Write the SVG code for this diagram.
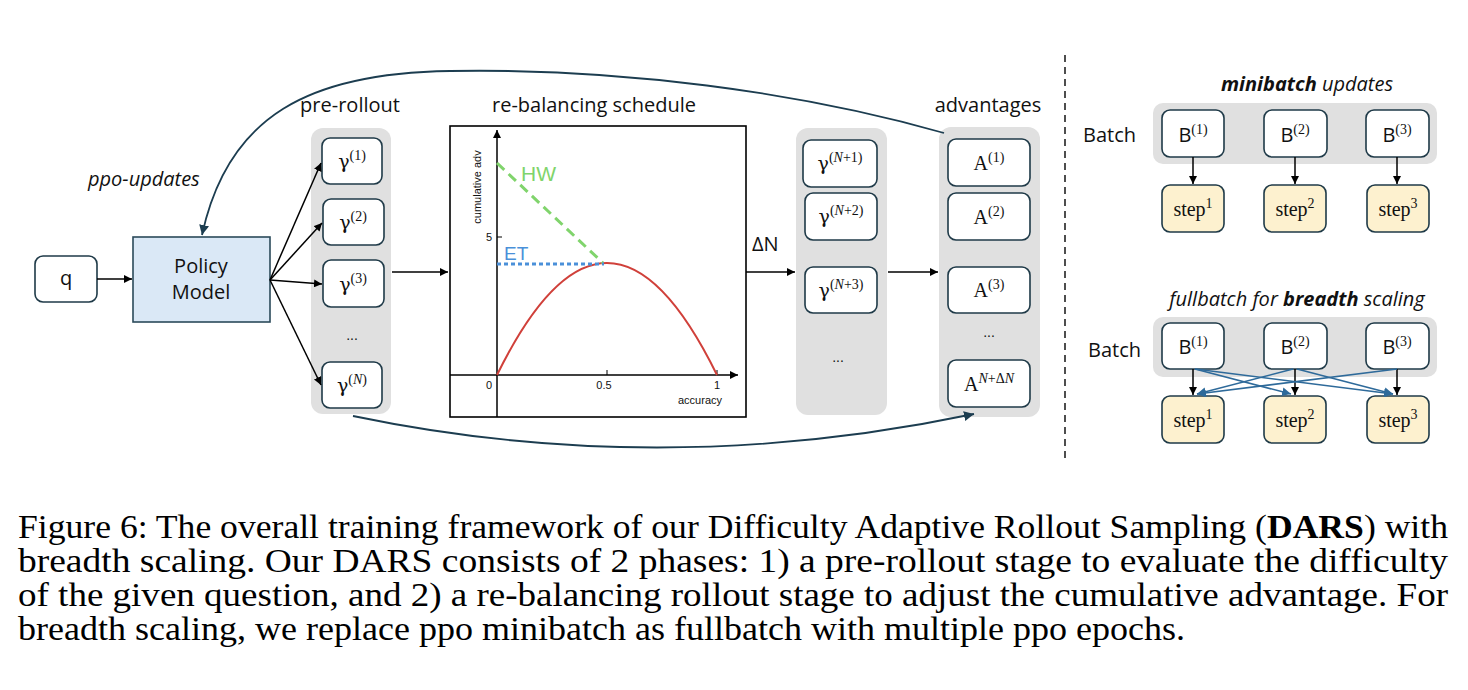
<svg xmlns="http://www.w3.org/2000/svg" width="1468" height="690" viewBox="0 0 1468 690">
<style>
.box{fill:#fff;stroke:#1f3a48;stroke-width:1.6}
.col{fill:#e0e0e0;stroke:none}
.step{fill:#fdf1cf;stroke:#1f3a48;stroke-width:1.6}
.pm{fill:#dae8f6;stroke:#2b4a5a;stroke-width:1.6}
.sans{font-family:"Liberation Sans","Noto Sans",sans-serif;fill:#111}
.ser{font-family:"Liberation Serif","DejaVu Serif",serif;fill:#111}
.gam{font-family:"DejaVu Serif","Liberation Serif",serif}
.lbl{font-family:"Open Sans","Liberation Sans",sans-serif;font-size:20px;fill:#111}
.ar{stroke:#000;stroke-width:1.5;fill:none}
.cv{stroke:#1c3d50;stroke-width:1.8;fill:none}
.bl{stroke:#2e6a9a;stroke-width:1.6;fill:none}
.cap{font-family:"Liberation Serif","Times New Roman",serif;font-size:33px;fill:#000}
.sup{font-size:14px}
</style>
<defs>
<marker id="ab" viewBox="0 0 10 10" refX="10" refY="5" markerWidth="8" markerHeight="8" markerUnits="userSpaceOnUse" orient="auto"><path d="M0,0 L10,5 L0,10 z" fill="#000"/></marker>
<marker id="at" viewBox="0 0 10 10" refX="10" refY="5" markerWidth="10" markerHeight="10" markerUnits="userSpaceOnUse" orient="auto"><path d="M0,0 L10,5 L0,10 z" fill="#1c3d50"/></marker>
<marker id="abl" viewBox="0 0 10 10" refX="10" refY="5" markerWidth="9" markerHeight="9" markerUnits="userSpaceOnUse" orient="auto"><path d="M0,0 L10,5 L0,10 z" fill="#2e6a9a"/></marker>
</defs>

<!-- columns (background) -->
<rect class="col" x="311" y="128" width="80" height="286" rx="12"/>
<rect class="col" x="796" y="128" width="91" height="287" rx="12"/>
<rect class="col" x="939" y="127" width="101" height="290" rx="12"/>
<rect class="col" x="1153" y="103" width="284" height="61" rx="10"/>
<rect class="col" x="1153" y="317" width="284" height="60" rx="10"/>

<!-- labels -->
<text class="lbl" x="350" y="112" text-anchor="middle">pre-rollout</text>
<text class="lbl" x="594" y="112" text-anchor="middle">re-balancing schedule</text>
<text class="lbl" x="988" y="112" text-anchor="middle">advantages</text>
<text class="lbl" x="88" y="186" font-style="italic" font-size="19">ppo-updates</text>

<g id="q"><rect class="box" x="35" y="256" width="62" height="46" rx="8"/><text class="lbl" x="66" y="285" text-anchor="middle">q</text></g>
<g id="policy"><rect class="pm" x="133" y="237" width="137" height="85"/><text class="lbl" x="201" y="273" text-anchor="middle">Policy</text><text class="lbl" x="201" y="299" text-anchor="middle">Model</text></g>

<g id="g1"><rect class="box" x="322" y="138" width="60" height="46" rx="8"/><text class="ser" x="352" y="168" text-anchor="middle" font-size="19"><tspan class="gam">γ</tspan><tspan class="sup" dy="-8">(1)</tspan></text></g>
<g id="g2"><rect class="box" x="323" y="199" width="61" height="46" rx="8"/><text class="ser" x="353" y="229" text-anchor="middle" font-size="19"><tspan class="gam">γ</tspan><tspan class="sup" dy="-8">(2)</tspan></text></g>
<g id="g3"><rect class="box" x="323" y="260" width="61" height="47" rx="8"/><text class="ser" x="353" y="291" text-anchor="middle" font-size="19"><tspan class="gam">γ</tspan><tspan class="sup" dy="-8">(3)</tspan></text></g>
<text class="sans" x="352" y="340" text-anchor="middle" font-size="14">...</text>
<g id="gN"><rect class="box" x="322" y="362" width="60" height="46" rx="8"/><text class="ser" x="352" y="392" text-anchor="middle" font-size="19"><tspan class="gam">γ</tspan><tspan class="sup" dy="-8">(<tspan font-style="italic">N</tspan>)</tspan></text></g>

<g id="chart">
<rect x="450" y="126" width="296" height="291" fill="#fff" stroke="#000" stroke-width="1.6"/>
<line class="ar" x1="497" y1="417" x2="497" y2="130" marker-end="url(#ab)"/>
<line class="ar" x1="450" y1="375" x2="738" y2="375" marker-end="url(#ab)"/>
<line x1="497" y1="237" x2="502" y2="237" stroke="#000" stroke-width="1"/>
<line x1="607" y1="375" x2="607" y2="370" stroke="#000" stroke-width="1"/>
<line x1="717" y1="375" x2="717" y2="370" stroke="#000" stroke-width="1"/>
<text class="sans" x="0" y="0" font-size="11" text-anchor="middle" transform="translate(481,187) rotate(-90)">cumulative adv</text>
<text class="sans" x="489" y="241" font-size="11" text-anchor="middle">5</text>
<text class="sans" x="489" y="389" font-size="11" text-anchor="middle">0</text>
<text class="sans" x="604" y="389" font-size="11" text-anchor="middle">0.5</text>
<text class="sans" x="717" y="389" font-size="11" text-anchor="middle">1</text>
<text class="sans" x="700" y="404" font-size="11" text-anchor="middle">accuracy</text>
<path d="M497,375 Q607,151 717,375" fill="none" stroke="#d0403a" stroke-width="2"/>
<line x1="497" y1="163" x2="603" y2="263" stroke="#80d46c" stroke-width="3" stroke-dasharray="10,6"/>
<line x1="497" y1="264" x2="604" y2="264" stroke="#4a90d9" stroke-width="3" stroke-dasharray="4,3"/>
<text class="sans" x="521" y="181" font-size="21" style="fill:#80d46c">HW</text>
<text class="sans" x="504" y="260" font-size="19" style="fill:#4a90d9">ET</text>
</g>
<text class="lbl" x="752" y="251" font-size="21">ΔN</text>

<g id="gN1"><rect class="box" x="803" y="140" width="74" height="47" rx="8"/><text class="ser" x="840" y="170" text-anchor="middle" font-size="19"><tspan class="gam">γ</tspan><tspan class="sup" dy="-8">(<tspan font-style="italic">N</tspan>+1)</tspan></text></g>
<g id="gN2"><rect class="box" x="805" y="193" width="72" height="47" rx="8"/><text class="ser" x="841" y="223" text-anchor="middle" font-size="19"><tspan class="gam">γ</tspan><tspan class="sup" dy="-8">(<tspan font-style="italic">N</tspan>+2)</tspan></text></g>
<g id="gN3"><rect class="box" x="805" y="267" width="72" height="46" rx="8"/><text class="ser" x="841" y="297" text-anchor="middle" font-size="19"><tspan class="gam">γ</tspan><tspan class="sup" dy="-8">(<tspan font-style="italic">N</tspan>+3)</tspan></text></g>
<text class="sans" x="838" y="362" text-anchor="middle" font-size="14">...</text>

<g id="a1"><rect class="box" x="948" y="139" width="82" height="47" rx="8"/><text class="ser" x="989" y="170" text-anchor="middle" font-size="20">A<tspan class="sup" dy="-8">(1)</tspan></text></g>
<g id="a2"><rect class="box" x="948" y="193" width="82" height="47" rx="8"/><text class="ser" x="989" y="224" text-anchor="middle" font-size="20">A<tspan class="sup" dy="-8">(2)</tspan></text></g>
<g id="a3"><rect class="box" x="948" y="267" width="82" height="46" rx="8"/><text class="ser" x="989" y="297" text-anchor="middle" font-size="20">A<tspan class="sup" dy="-8">(3)</tspan></text></g>
<text class="sans" x="989" y="337" text-anchor="middle" font-size="14">...</text>
<g id="aN"><rect class="box" x="948" y="360" width="82" height="47" rx="8"/><text class="ser" x="989" y="391" text-anchor="middle" font-size="20">A<tspan class="sup" dy="-8"><tspan font-style="italic">N</tspan>+Δ<tspan font-style="italic">N</tspan></tspan></text></g>

<!-- right panel -->
<line x1="1065" y1="55" x2="1065" y2="460" stroke="#222" stroke-width="1.6" stroke-dasharray="7,5"/>
<text class="lbl" x="1307" y="91" text-anchor="middle" font-style="italic" font-size="19"><tspan font-weight="bold">minibatch</tspan> updates</text>
<text class="lbl" x="1083" y="142">Batch</text>
<g id="mb1"><rect class="box" x="1162" y="110" width="62" height="47" rx="8"/><text class="lbl" x="1193" y="142" text-anchor="middle">B<tspan class="ser sup" dy="-8">(1)</tspan></text></g>
<g id="mb2"><rect class="box" x="1264" y="110" width="63" height="47" rx="8"/><text class="lbl" x="1295" y="142" text-anchor="middle">B<tspan class="ser sup" dy="-8">(2)</tspan></text></g>
<g id="mb3"><rect class="box" x="1366" y="110" width="63" height="47" rx="8"/><text class="lbl" x="1397" y="142" text-anchor="middle">B<tspan class="ser sup" dy="-8">(3)</tspan></text></g>
<g id="ms1"><rect class="step" x="1162" y="185" width="62" height="47" rx="8"/><text class="ser" x="1193" y="216" text-anchor="middle" font-size="20">step<tspan class="sup" dy="-8">1</tspan></text></g>
<g id="ms2"><rect class="step" x="1264" y="185" width="62" height="47" rx="8"/><text class="ser" x="1295" y="216" text-anchor="middle" font-size="20">step<tspan class="sup" dy="-8">2</tspan></text></g>
<g id="ms3"><rect class="step" x="1367" y="185" width="62" height="47" rx="8"/><text class="ser" x="1398" y="216" text-anchor="middle" font-size="20">step<tspan class="sup" dy="-8">3</tspan></text></g>

<text class="lbl" x="1297" y="306" text-anchor="middle" font-style="italic" font-size="19">fullbatch for <tspan font-weight="bold">breadth</tspan> scaling</text>
<text class="lbl" x="1088" y="357">Batch</text>
<g id="fb1"><rect class="box" x="1162" y="323" width="62" height="46" rx="8"/><text class="lbl" x="1193" y="354" text-anchor="middle">B<tspan class="ser sup" dy="-8">(1)</tspan></text></g>
<g id="fb2"><rect class="box" x="1264" y="323" width="63" height="46" rx="8"/><text class="lbl" x="1295" y="354" text-anchor="middle">B<tspan class="ser sup" dy="-8">(2)</tspan></text></g>
<g id="fb3"><rect class="box" x="1366" y="323" width="63" height="46" rx="8"/><text class="lbl" x="1397" y="354" text-anchor="middle">B<tspan class="ser sup" dy="-8">(3)</tspan></text></g>
<g id="fs1"><rect class="step" x="1162" y="396" width="62" height="47" rx="8"/><text class="ser" x="1193" y="427" text-anchor="middle" font-size="20">step<tspan class="sup" dy="-8">1</tspan></text></g>
<g id="fs2"><rect class="step" x="1264" y="396" width="62" height="47" rx="8"/><text class="ser" x="1295" y="427" text-anchor="middle" font-size="20">step<tspan class="sup" dy="-8">2</tspan></text></g>
<g id="fs3"><rect class="step" x="1367" y="396" width="62" height="47" rx="8"/><text class="ser" x="1398" y="427" text-anchor="middle" font-size="20">step<tspan class="sup" dy="-8">3</tspan></text></g>

<g id="connectors">
<line class="ar" x1="97" y1="279" x2="132" y2="279" marker-end="url(#ab)"/>
<line class="ar" x1="270" y1="280" x2="321" y2="163" marker-end="url(#ab)"/>
<line class="ar" x1="270" y1="280" x2="322" y2="223" marker-end="url(#ab)"/>
<line class="ar" x1="270" y1="280" x2="322" y2="284" marker-end="url(#ab)"/>
<line class="ar" x1="270" y1="280" x2="321" y2="385" marker-end="url(#ab)"/>
<line class="ar" x1="392" y1="272" x2="448" y2="272" marker-end="url(#ab)"/>
<line class="ar" x1="746" y1="272" x2="795" y2="272" marker-end="url(#ab)"/>
<line class="ar" x1="888" y1="272" x2="938" y2="272" marker-end="url(#ab)"/>
<path class="cv" d="M944,133 C800,92 620,68 450,71 C310,73 228,115 202,235" marker-end="url(#at)"/>
<path class="cv" d="M353,416 Q660,480 974,414" marker-end="url(#at)"/>
<line class="ar" x1="1193" y1="157" x2="1193" y2="184" marker-end="url(#ab)"/>
<line class="ar" x1="1295" y1="157" x2="1295" y2="184" marker-end="url(#ab)"/>
<line class="ar" x1="1397" y1="157" x2="1397" y2="184" marker-end="url(#ab)"/>
<line class="ar" x1="1193" y1="369" x2="1193" y2="395" marker-end="url(#ab)"/>
<line class="ar" x1="1295" y1="369" x2="1295" y2="395" marker-end="url(#ab)"/>
<line class="ar" x1="1397" y1="369" x2="1397" y2="395" marker-end="url(#ab)"/>
<line class="bl" x1="1195" y1="369" x2="1291" y2="394" marker-end="url(#abl)"/>
<line class="bl" x1="1195" y1="369" x2="1393" y2="394" marker-end="url(#abl)"/>
<line class="bl" x1="1293" y1="369" x2="1197" y2="394" marker-end="url(#abl)"/>
<line class="bl" x1="1297" y1="369" x2="1393" y2="394" marker-end="url(#abl)"/>
<line class="bl" x1="1397" y1="369" x2="1197" y2="394" marker-end="url(#abl)"/>
</g>

<g id="caption">
<text class="cap" x="18" y="538" textLength="1430" lengthAdjust="spacingAndGlyphs">Figure 6: The overall training framework of our Difficulty Adaptive Rollout Sampling (<tspan font-weight="bold">DARS</tspan>) with</text>
<text class="cap" x="18" y="572" textLength="1430" lengthAdjust="spacingAndGlyphs">breadth scaling. Our DARS consists of 2 phases: 1) a pre-rollout stage to evaluate the difficulty</text>
<text class="cap" x="18" y="606" textLength="1430" lengthAdjust="spacingAndGlyphs">of the given question, and 2) a re-balancing rollout stage to adjust the cumulative advantage. For</text>
<text class="cap" x="18" y="640" textLength="1167" lengthAdjust="spacingAndGlyphs">breadth scaling, we replace ppo minibatch as fullbatch with multiple ppo epochs.</text>
</g>
</svg>
